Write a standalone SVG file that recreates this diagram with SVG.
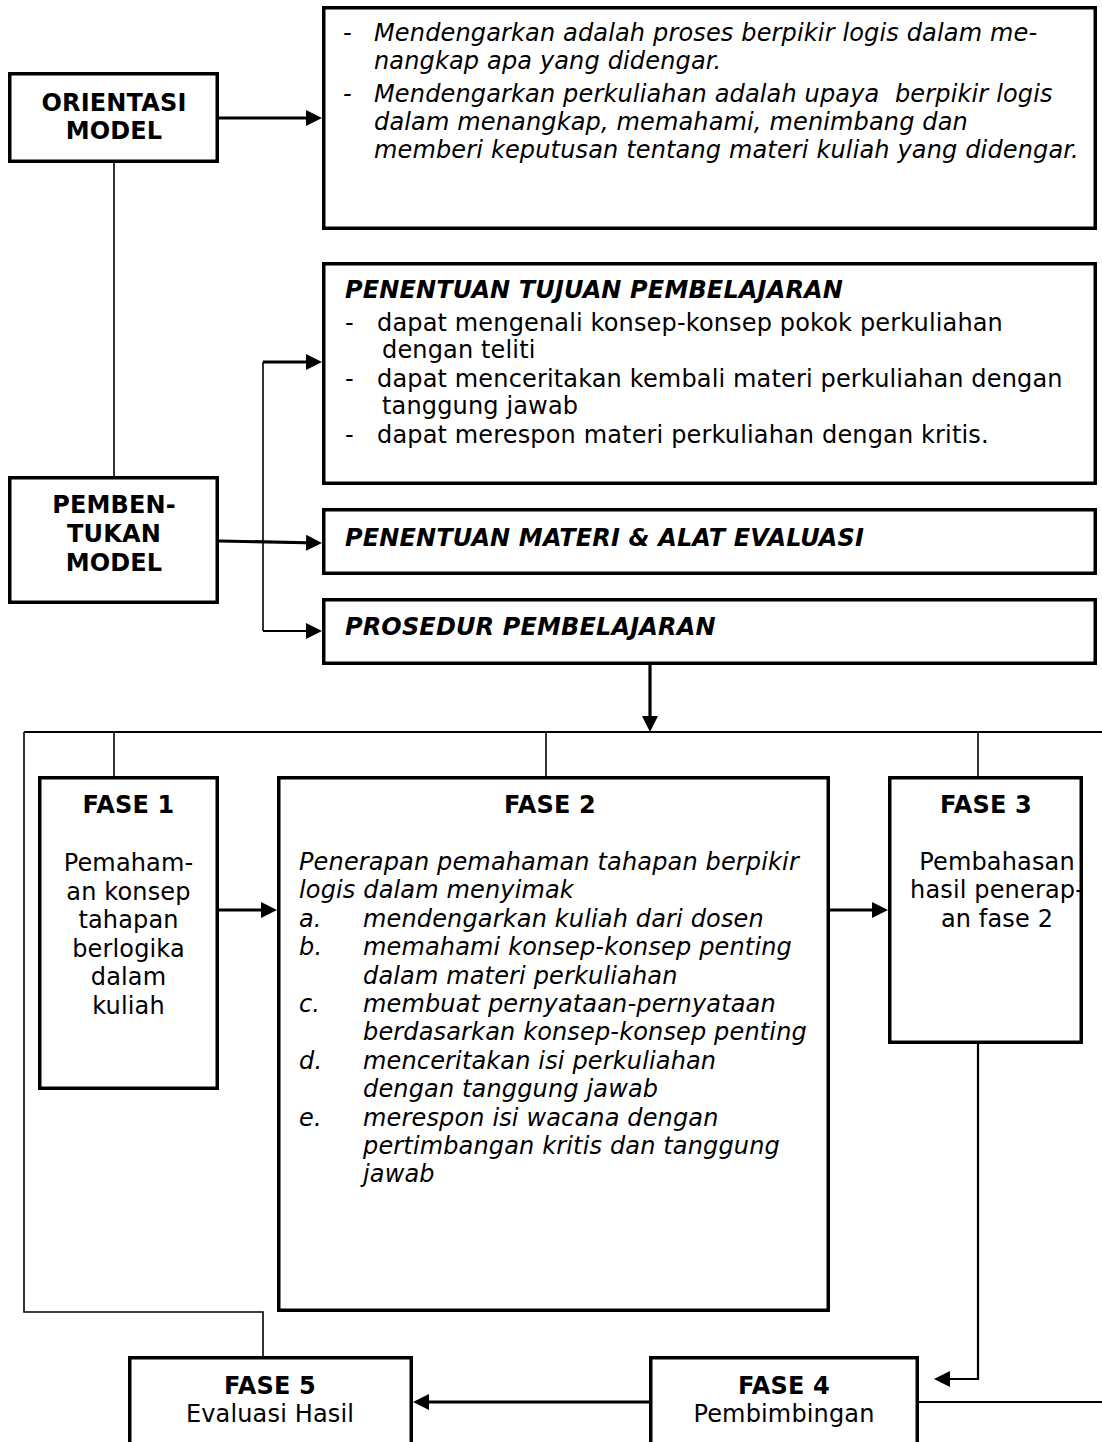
<svg xmlns="http://www.w3.org/2000/svg" width="1102" height="1442" viewBox="0 0 1102 1442">
<style>
  .box { fill: #fff; stroke: #000; stroke-width: 3.5; }
  .t { font-family: "DejaVu Sans", Verdana, sans-serif; font-size: 24px; letter-spacing: 0.15px; fill: #000; }
  .b { font-weight: bold; }
  .i { font-style: italic; }
  .c { text-anchor: middle; }
  .thin { fill: none; stroke: #000; stroke-width: 1.6; }
  .mid { fill: none; stroke: #000; stroke-width: 2.2; }
  .thick { fill: none; stroke: #000; stroke-width: 3.2; }
</style>
<defs>
  <marker id="ah" viewBox="0 0 16 16" refX="12" refY="8" markerWidth="16" markerHeight="16" markerUnits="userSpaceOnUse" orient="auto">
    <path d="M0,0 L16,8 L0,16 z" fill="#000"/>
  </marker>
</defs>
<rect width="1102" height="1442" fill="#fff"/>

<g id="connectors">
  <line class="thick" x1="219" y1="118" x2="318" y2="118" marker-end="url(#ah)"/>
  <line class="thin" x1="114" y1="163" x2="114" y2="476"/>
  <line class="thick" x1="219" y1="541" x2="318" y2="543" marker-end="url(#ah)"/>
  <line class="thin" x1="263" y1="362" x2="263" y2="631"/>
  <line class="thick" x1="263" y1="362" x2="318" y2="362" marker-end="url(#ah)"/>
  <line class="mid" x1="263" y1="631" x2="318" y2="631" marker-end="url(#ah)"/>
  <line class="thick" x1="650" y1="665" x2="650" y2="728" marker-end="url(#ah)"/>
  <line class="mid" x1="24" y1="732" x2="1102" y2="732"/>
  <line class="thin" x1="114" y1="732" x2="114" y2="776"/>
  <line class="thin" x1="546" y1="732" x2="546" y2="776"/>
  <line class="thin" x1="978" y1="732" x2="978" y2="776"/>
  <path class="thin" d="M24,732 V1312 H263 V1356"/>
  <line class="thick" x1="219" y1="910" x2="273" y2="910" marker-end="url(#ah)"/>
  <line class="thick" x1="830" y1="910" x2="884" y2="910" marker-end="url(#ah)"/>
  <path class="mid" d="M978,1044 V1379 H938" marker-end="url(#ah)"/>
  <line class="mid" x1="919" y1="1402" x2="1102" y2="1402"/>
  <line class="thick" x1="649" y1="1402" x2="417" y2="1402" marker-end="url(#ah)"/>
</g>

<g id="orientasi-model">
  <rect class="box" x="9.75" y="73.75" width="207.5" height="87.5"/>
  <text class="t b c" x="114" y="111">ORIENTASI</text>
  <text class="t b c" x="114" y="139">MODEL</text>
</g>

<g id="definisi">
  <rect class="box" x="323.75" y="7.75" width="771.5" height="220.5"/>
  <text class="t i" x="343" y="41">-</text>
  <text class="t i" x="374" y="41">Mendengarkan adalah proses berpikir logis dalam me-</text>
  <text class="t i" x="374" y="69">nangkap apa yang didengar.</text>
  <text class="t i" x="343" y="102">-</text>
  <text class="t i" x="374" y="102" xml:space="preserve">Mendengarkan perkuliahan adalah upaya  berpikir logis</text>
  <text class="t i" x="374" y="130">dalam menangkap, memahami, menimbang dan</text>
  <text class="t i" x="374" y="158">memberi keputusan tentang materi kuliah yang didengar.</text>
</g>

<g id="pembentukan-model">
  <rect class="box" x="9.75" y="477.75" width="207.5" height="124.5"/>
  <text class="t b c" x="114" y="513">PEMBEN-</text>
  <text class="t b c" x="114" y="542">TUKAN</text>
  <text class="t b c" x="114" y="571">MODEL</text>
</g>

<g id="tujuan">
  <rect class="box" x="323.75" y="263.75" width="771.5" height="219.5"/>
  <text class="t b i" x="345" y="298">PENENTUAN TUJUAN PEMBELAJARAN</text>
  <text class="t" x="345" y="331">-</text>
  <text class="t" x="377" y="331">dapat mengenali konsep-konsep pokok perkuliahan</text>
  <text class="t" x="382" y="358">dengan teliti</text>
  <text class="t" x="345" y="387">-</text>
  <text class="t" x="377" y="387">dapat menceritakan kembali materi perkuliahan dengan</text>
  <text class="t" x="382" y="414">tanggung jawab</text>
  <text class="t" x="345" y="443">-</text>
  <text class="t" x="377" y="443">dapat merespon materi perkuliahan dengan kritis.</text>
</g>

<g id="materi">
  <rect class="box" x="323.75" y="509.75" width="771.5" height="63.5"/>
  <text class="t b i" x="345" y="546">PENENTUAN MATERI &amp; ALAT EVALUASI</text>
</g>

<g id="prosedur">
  <rect class="box" x="323.75" y="599.75" width="771.5" height="63.5"/>
  <text class="t b i" x="345" y="635">PROSEDUR PEMBELAJARAN</text>
</g>

<g id="fase1">
  <rect class="box" x="39.75" y="777.75" width="177.5" height="310.5"/>
  <text class="t b c" x="128.5" y="813">FASE 1</text>
  <text class="t c" x="128.5" y="871">Pemaham-</text>
  <text class="t c" x="128.5" y="900">an konsep</text>
  <text class="t c" x="128.5" y="928">tahapan</text>
  <text class="t c" x="128.5" y="957">berlogika</text>
  <text class="t c" x="128.5" y="985">dalam</text>
  <text class="t c" x="128.5" y="1014">kuliah</text>
</g>

<g id="fase2">
  <rect class="box" x="278.75" y="777.75" width="549.5" height="532.5"/>
  <text class="t b c" x="550" y="813">FASE 2</text>
  <text class="t i" x="299" y="870">Penerapan pemahaman tahapan berpikir</text>
  <text class="t i" x="299" y="898">logis dalam menyimak</text>
  <text class="t i" x="299" y="927">a.</text>
  <text class="t i" x="363" y="927">mendengarkan kuliah dari dosen</text>
  <text class="t i" x="299" y="955">b.</text>
  <text class="t i" x="363" y="955">memahami konsep-konsep penting</text>
  <text class="t i" x="363" y="984">dalam materi perkuliahan</text>
  <text class="t i" x="299" y="1012">c.</text>
  <text class="t i" x="363" y="1012">membuat pernyataan-pernyataan</text>
  <text class="t i" x="363" y="1040">berdasarkan konsep-konsep penting</text>
  <text class="t i" x="299" y="1069">d.</text>
  <text class="t i" x="363" y="1069">menceritakan isi perkuliahan</text>
  <text class="t i" x="363" y="1097">dengan tanggung jawab</text>
  <text class="t i" x="299" y="1126">e.</text>
  <text class="t i" x="363" y="1126">merespon isi wacana dengan</text>
  <text class="t i" x="363" y="1154">pertimbangan kritis dan tanggung</text>
  <text class="t i" x="363" y="1182">jawab</text>
</g>

<g id="fase3">
  <rect class="box" x="889.75" y="777.75" width="191.5" height="264.5"/>
  <text class="t b c" x="986" y="813">FASE 3</text>
  <text class="t c" x="997" y="870">Pembahasan</text>
  <text class="t c" x="997" y="898">hasil penerap-</text>
  <text class="t c" x="997" y="927">an fase 2</text>
</g>

<g id="fase4">
  <rect class="box" x="650.75" y="1357.75" width="266.5" height="100"/>
  <text class="t b c" x="784" y="1394">FASE 4</text>
  <text class="t c" x="784" y="1422">Pembimbingan</text>
</g>

<g id="fase5">
  <rect class="box" x="129.75" y="1357.75" width="281.5" height="100"/>
  <text class="t b c" x="270" y="1394">FASE 5</text>
  <text class="t c" x="270" y="1422">Evaluasi Hasil</text>
</g>
</svg>
